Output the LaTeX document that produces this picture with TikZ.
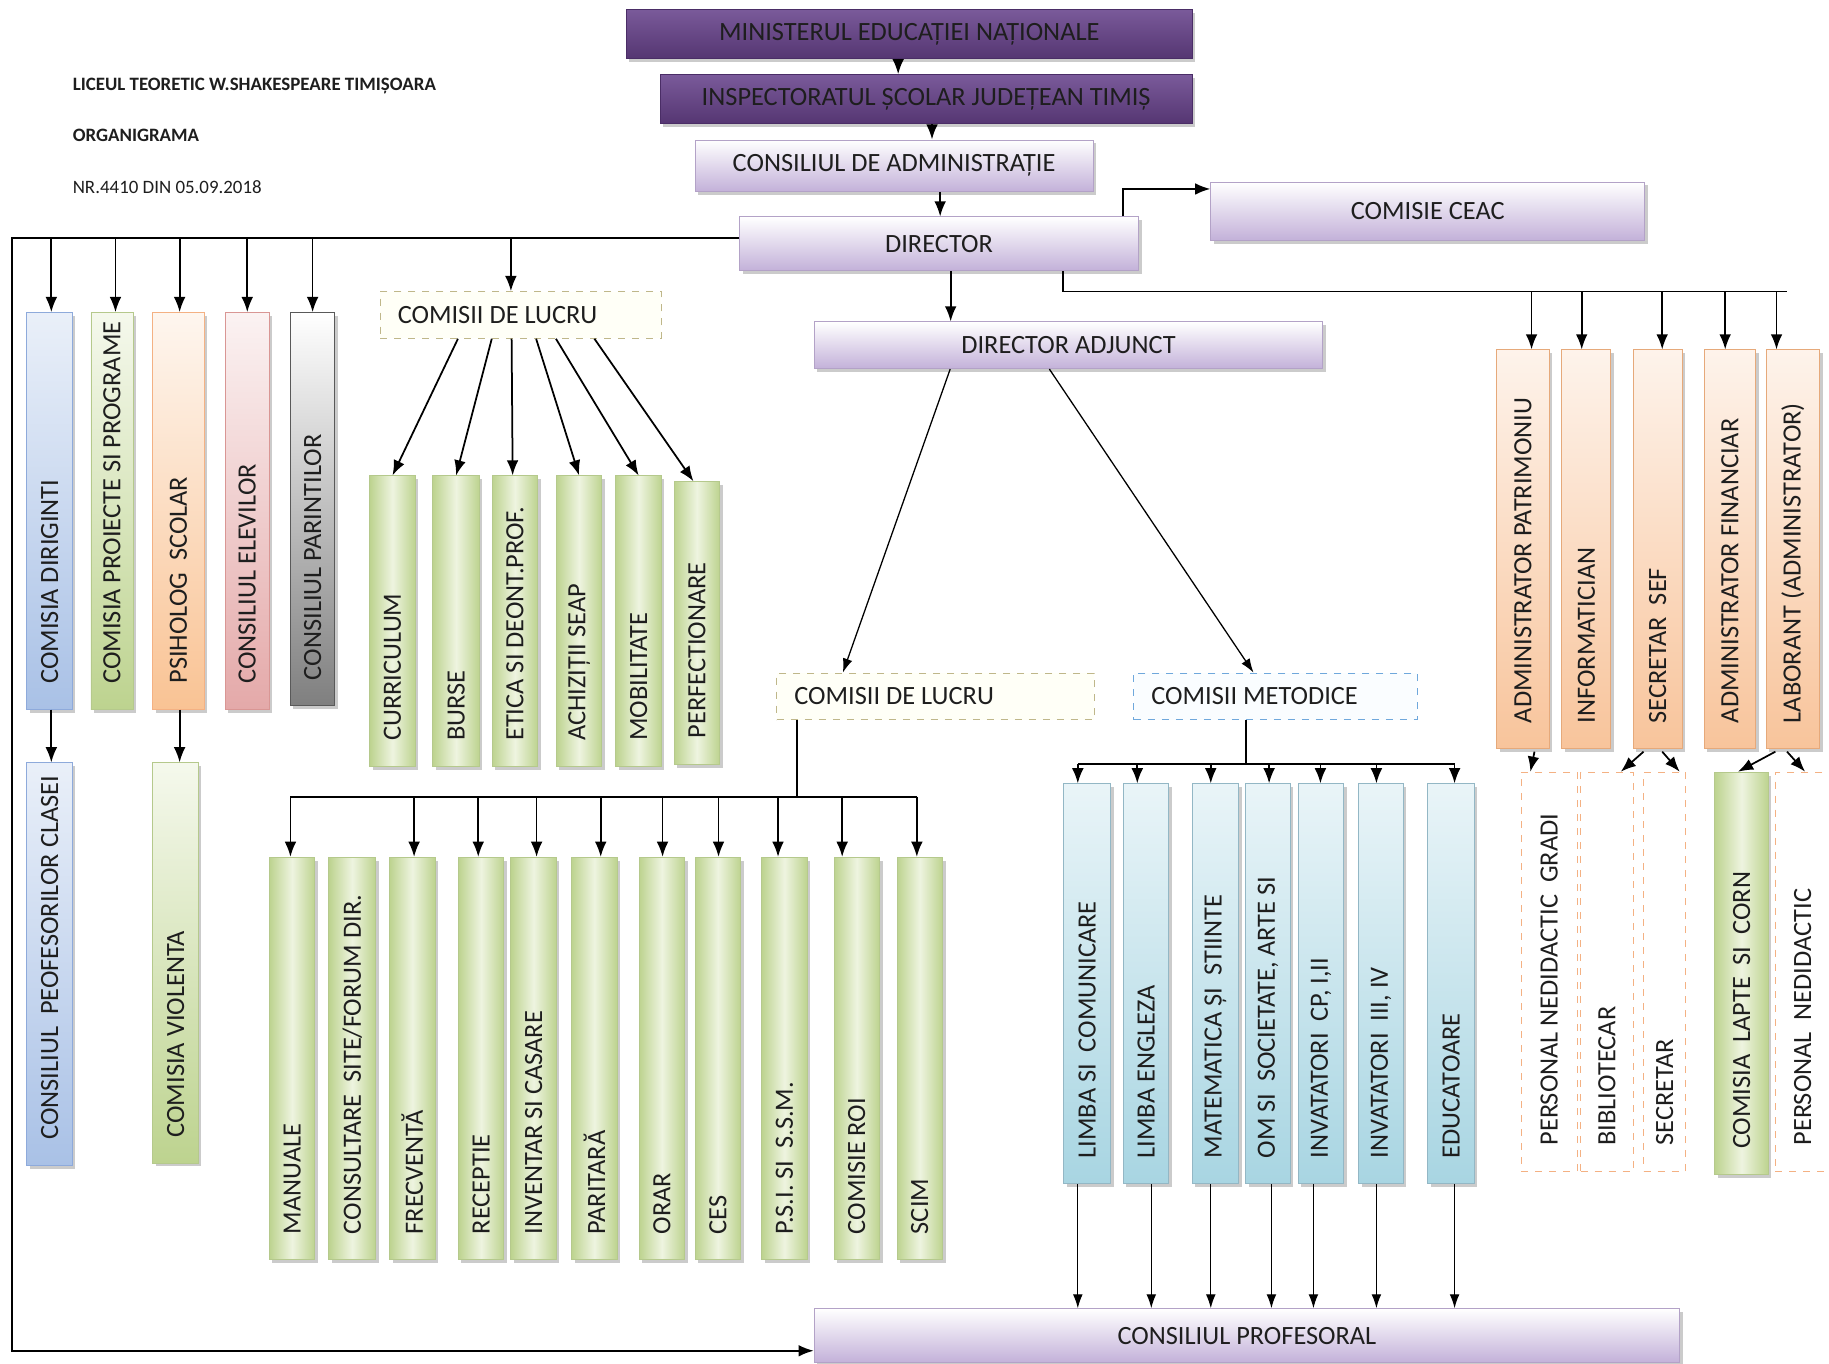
\documentclass[tikz,border=0pt]{standalone}
\usepackage{fontspec}
\setmainfont{Carlito}
\usetikzlibrary{arrows.meta,shadows,calc}
\definecolor{txt}{HTML}{1E1E1E}
\definecolor{purpT}{HTML}{7A5A9A}
\definecolor{purpC}{HTML}{553672}
\definecolor{purpB}{HTML}{4A2D66}
\definecolor{lavC}{HTML}{C3B1D9}
\definecolor{lavB}{HTML}{B3A2C7}
\definecolor{blueC}{HTML}{A9C1E6}
\definecolor{blueB}{HTML}{8EAADB}
\definecolor{greenC}{HTML}{BDD38F}
\definecolor{greenL}{HTML}{EEF4E0}
\definecolor{greenB}{HTML}{B5C98C}
\definecolor{peachC}{HTML}{F9C394}
\definecolor{peachB}{HTML}{F4B183}
\definecolor{pinkC}{HTML}{E4A9A9}
\definecolor{pinkB}{HTML}{D99694}
\definecolor{greyC}{HTML}{7F7F7F}
\definecolor{greyB}{HTML}{595959}
\definecolor{mblueC}{HTML}{A8D5E2}
\definecolor{mblueB}{HTML}{93B7C5}
\definecolor{orC}{HTML}{F8C49B}
\definecolor{orB}{HTML}{E6A97A}
\definecolor{dashTan}{HTML}{BFB78A}
\definecolor{dashBlue}{HTML}{6FA8DC}
\definecolor{dashOr}{HTML}{F4B183}
\newcommand\mkbox[6]{\node[#2,minimum width={(#5-#3)*0.5pt},minimum height={(#6-#4)*0.5pt}] (#1) at ({(#3+#5)/2},{(#4+#6)/2}) {};}
\newcommand\mkboxt[7]{\node[#2,minimum width={(#5-#3)*0.5pt},minimum height={(#6-#4)*0.5pt}] (#1) at ({(#3+#5)/2},{(#4+#6)/2}) {#7};}
\newcommand\mklab[2]{\node[vlab] (#1T) at ($(#1.south)+(0,-22)$) {#2};}
\begin{document}
\begin{tikzpicture}[x=0.5pt,y=-0.5pt,
  lbl/.style={font=\fontsize{11.3}{13}\selectfont, text=txt},
  hdr/.style={font=\fontsize{8.1}{10}\selectfont\bfseries, text=txt, anchor=west, inner sep=0pt},
  vlab/.style={lbl, rotate=90, anchor=west, inner sep=0pt},
  hlab/.style={lbl, anchor=west, inner sep=0pt},
  box/.style={rectangle, inner sep=0pt, line width=0.4pt},
  shad/.style={drop shadow={shadow xshift=1.3pt, shadow yshift=-1.5pt, fill=black!45, opacity=0.45}},
  purp/.style={box, shad, draw=purpB, top color=purpT, bottom color=purpC, lbl},
  lav/.style={box, shad, draw=lavB, top color=white, bottom color=lavC, lbl},
  blueb/.style={box, shad, draw=blueB, top color=blueC!25, bottom color=blueC},
  greenv/.style={box, shad, draw=greenB, top color=greenL!60, bottom color=greenC},
  greenh/.style={box, shad, draw=greenB, left color=greenC, right color=greenC, middle color=greenL},
  peachb/.style={box, shad, draw=peachB, top color=peachC!15, bottom color=peachC},
  pinkb/.style={box, shad, draw=pinkB, top color=pinkC!15, bottom color=pinkC},
  greyb/.style={box, shad, draw=greyB, top color=white, bottom color=greyC},
  mblue/.style={box, shad, draw=mblueB, top color=mblueC!25, bottom color=mblueC},
  orb/.style={box, shad, draw=orB, top color=orC!20, bottom color=orC},
  dtan/.style={box, draw=dashTan, dashed, fill=yellow!3},
  dblue/.style={box, draw=dashBlue, dashed, fill=cyan!2},
  dor/.style={box, draw=dashOr, dashed, fill=white},
  ln/.style={draw=black, line width=0.75pt},
  arr/.style={draw=black, line width=0.75pt, -{Latex[length=6.5pt,width=5pt]}},
  tarr/.style={draw=black, line width=0.55pt, -{Latex[length=6pt,width=4.2pt]}}
]
\fill[white] (0,0) rectangle (1568,1169.35);
\useasboundingbox (0,0) rectangle (1568,1169.35);

% header
\node[hdr] (h1) at (62,74) {LICEUL TEORETIC W.SHAKESPEARE TIMIȘOARA};
\node[hdr] (h2) at (62,116) {ORGANIGRAMA};
\node[hdr, font=\fontsize{8.1}{10}\selectfont] (h3) at (62,160) {NR.4410 DIN 05.09.2018};

% top chain
\mkboxt{min}{purp}{537}{8}{1022}{50}{MINISTERUL EDUCAȚIEI NAȚIONALE}
\mkboxt{insp}{purp}{566}{64}{1022}{106}{INSPECTORATUL ȘCOLAR JUDEȚEAN TIMIȘ}
\mkboxt{ca}{lav}{596}{120}{937}{164}{CONSILIUL DE ADMINISTRAȚIE}
\mkboxt{dir}{lav}{634}{186}{976}{232}{DIRECTOR}
\mkboxt{ceac}{lav}{1038}{156}{1410}{206}{COMISIE CEAC}
\mkboxt{da}{lav}{698}{276}{1134}{316}{DIRECTOR ADJUNCT}
\mkboxt{cp}{lav}{698}{1122}{1440}{1168}{CONSILIUL PROFESORAL}

% dashed group boxes
\mkbox{cl1}{dtan}{326}{250}{567}{290}
\node[hlab] (cl1T) at ($(cl1.west)+(15,0)$) {COMISII DE LUCRU};
\mkbox{cl2}{dtan}{666}{577}{938}{617}
\node[hlab] (cl2T) at ($(cl2.west)+(15,0)$) {COMISII DE LUCRU};
\mkbox{met}{dblue}{972}{577}{1215}{617}
\node[hlab] (metT) at ($(met.west)+(15,0)$) {COMISII METODICE};

% left row 1
\mkbox{dirig}{blueb}{23}{268}{62}{608}
\mkbox{proi}{greenv}{78}{268}{114}{608}
\mkbox{psih}{peachb}{131}{268}{175}{608}
\mkbox{elev}{pinkb}{193}{268}{231}{608}
\mkbox{parn}{greyb}{249}{268}{287}{605}
\mklab{dirig}{COMISIA DIRIGINTI}
\mklab{proi}{COMISIA PROIECTE SI PROGRAME}
\mklab{psih}{PSIHOLOG~ SCOLAR}
\mklab{elev}{CONSILIUL ELEVILOR}
\mklab{parn}{CONSILIUL PARINTILOR}
% left row 2
\mkbox{peof}{blueb}{23}{654}{62}{999}
\mkbox{viol}{greenv}{131}{654}{170}{997}
\mklab{peof}{CONSILIUL~ PEOFESORILOR CLASEI}
\mklab{viol}{COMISIA VIOLENTA}

% green top six
\mkbox{curr}{greenh}{317}{408}{356}{657}
\mkbox{burse}{greenh}{371}{408}{411}{657}
\mkbox{etica}{greenh}{422}{408}{461}{657}
\mkbox{achiz}{greenh}{477}{408}{516}{657}
\mkbox{mobil}{greenh}{528}{408}{567}{657}
\mkbox{perf}{greenh}{578}{413}{617}{655}
\mklab{curr}{CURRICULUM}
\mklab{burse}{BURSE}
\mklab{etica}{ETICA SI DEONT.PROF.}
\mklab{achiz}{ACHIZIȚII SEAP}
\mklab{mobil}{MOBILITATE}
\mklab{perf}{PERFECTIONARE}

% green bottom eleven
\mkbox{man}{greenh}{231}{735}{270}{1080}
\mkbox{cons}{greenh}{282}{735}{322}{1080}
\mkbox{frec}{greenh}{334}{735}{373}{1080}
\mkbox{rec}{greenh}{393}{735}{432}{1080}
\mkbox{inv}{greenh}{438}{735}{477}{1080}
\mkbox{pari}{greenh}{490}{735}{529}{1080}
\mkbox{orar}{greenh}{548}{735}{587}{1080}
\mkbox{ces}{greenh}{596}{735}{635}{1080}
\mkbox{psi}{greenh}{653}{735}{692}{1080}
\mkbox{roi}{greenh}{715}{735}{754}{1080}
\mkbox{scim}{greenh}{769}{735}{808}{1080}
\mklab{man}{MANUALE}
\mklab{cons}{CONSULTARE~ SITE/FORUM DIR.}
\mklab{frec}{FRECVENTĂ}
\mklab{rec}{RECEPTIE}
\mklab{inv}{INVENTAR SI CASARE}
\mklab{pari}{PARITARĂ}
\mklab{orar}{ORAR}
\mklab{ces}{CES}
\mklab{psi}{P.S.I. SI~ S.S.M.}
\mklab{roi}{COMISIE ROI}
\mklab{scim}{SCIM}

% metodice
\mkbox{lsc}{mblue}{912}{672}{952}{1015}
\mkbox{leng}{mblue}{963}{672}{1002}{1015}
\mkbox{mat}{mblue}{1022}{672}{1062}{1015}
\mkbox{om}{mblue}{1068}{672}{1106}{1015}
\mkbox{icp}{mblue}{1113}{672}{1152}{1015}
\mkbox{itr}{mblue}{1165}{672}{1203}{1015}
\mkbox{edu}{mblue}{1224}{672}{1264}{1015}
\mklab{lsc}{LIMBA SI~ COMUNICARE}
\mklab{leng}{LIMBA ENGLEZA}
\mklab{mat}{MATEMATICA ȘI~ STIINTE}
\mklab{om}{OM SI~ SOCIETATE, ARTE SI}
\mklab{icp}{INVATATORI~ CP, I,II}
\mklab{itr}{INVATATORI~ III, IV}
\mklab{edu}{EDUCATOARE}

% right orange
\mkbox{patr}{orb}{1283}{300}{1328}{642}
\mkbox{info}{orb}{1339}{300}{1381}{642}
\mkbox{secs}{orb}{1400}{300}{1442}{642}
\mkbox{fin}{orb}{1461}{300}{1505}{642}
\mkbox{lab}{orb}{1514}{300}{1560}{642}
\mklab{patr}{ADMINISTRATOR PATRIMONIU}
\mklab{info}{INFORMATICIAN}
\mklab{secs}{SECRETAR~ SEF}
\mklab{fin}{ADMINISTRATOR FINANCIAR}
\mklab{lab}{LABORANT (ADMINISTRATOR)}

% right bottom
\mkbox{png}{dor}{1304}{662}{1352}{1004}
\mkbox{bib}{dor}{1355}{662}{1400}{1004}
\mkbox{sec}{dor}{1409}{662}{1445}{1004}
\mkbox{lapte}{greenh}{1470}{662}{1516}{1007}
\mkbox{pn}{dor}{1522}{662}{1575}{1004}
\mklab{png}{PERSONAL NEDIDACTIC~ GRADI}
\mklab{bib}{BIBLIOTECAR}
\mklab{sec}{SECRETAR}
\mklab{lapte}{COMISIA~ LAPTE~ SI~ CORN}
\node[vlab] (pnT) at ($(pn.south)+(-3,-22)$) {PERSONAL~ NEDIDACTIC};

% ---- connectors ----
\coordinate (t1) at (770,0);
\coordinate (t2) at (799,0);
\coordinate (t3) at (806,0);
\coordinate (t4) at (815,0);
\draw[arr] (min.south -| t1) -- (insp.north -| t1);
\draw[arr] (insp.south -| t2) -- (ca.north -| t2);
\draw[arr] (ca.south -| t3) -- (dir.north -| t3);
\draw[arr] (dir.south -| t4) -- (da.north -| t4);

% CEAC
\coordinate (c0) at (963,162);
\draw[arr] (dir.north -| c0) |- (ceac.west |- c0);

% left bus
\coordinate (L0) at (10,204);
\coordinate (Lb) at (10,1158);
\draw[arr] (dir.west |- L0) -- (L0) |- (cp.west |- Lb);
\foreach \n/\xx in {dirig/44, proi/99, psih/154, elev/212, parn/268, cl1/438}{
  \coordinate (b\n) at (\xx,204);
  \draw[arr] (b\n) -- (b\n |- \n.north);
}
\coordinate (d1) at (44,0);
\coordinate (d2) at (154,0);
\draw[arr] (dirig.south -| d1) -- (peof.north -| d1);
\draw[arr] (psih.south -| d2) -- (viol.north -| d2);

% comisii de lucru 1 fan
\draw[arr] ($(cl1.south west)+(67,0)$) -- (curr.north);
\draw[arr] ($(cl1.south west)+(96,0)$) -- (burse.north);
\draw[arr] ($(cl1.south west)+(113,0)$) -- ($(etica.north)+(-2,0)$);
\draw[arr] ($(cl1.south west)+(134,0)$) -- (achiz.north);
\draw[arr] ($(cl1.south west)+(151,0)$) -- (mobil.north);
\draw[arr] ($(cl1.south west)+(184,0)$) -- ($(perf.north)+(-3,0)$);

% right bus
\coordinate (R0) at (911,250);
\coordinate (R1) at (1532,250);
\draw[ln] (dir.south -| R0) |- (R1);
\foreach \n/\xx in {patr/1313, info/1356, secs/1425, fin/1479, lab/1523}{
  \coordinate (r\n) at (\xx,250);
  \draw[arr] (r\n) -- (r\n |- \n.north);
}

% director adjunct
\draw[tarr] ($(da.south west)+(117,0)$) -- ($(cl2.north west)+(57,0)$);
\draw[tarr] ($(da.south west)+(202,0)$) -- ($(met.north west)+(103,0)$);

% comisii de lucru 2 bus
\coordinate (G0) at (683,683);
\coordinate (Ga) at (249,683);
\coordinate (Gb) at (786,683);
\draw[ln] (cl2.south -| G0) -- (G0);
\draw[ln] (Ga) -- (Gb);
\foreach \n/\xx in {man/249, frec/355, rec/410, inv/460, pari/515, orar/568, ces/616, psi/667, roi/722, scim/786}{
  \coordinate (g\n) at (\xx,683);
  \draw[arr] (g\n) -- (g\n |- \n.north);
}

% metodice bus
\coordinate (M0) at (1068,655);
\coordinate (Ma) at (924,655);
\coordinate (Mb) at (1247,655);
\draw[ln] (met.south -| M0) -- (M0);
\draw[ln] (Ma) -- (Mb);
\foreach \n/\xx in {lsc/924, leng/975, mat/1038, om/1088, icp/1132, itr/1180, edu/1247}{
  \coordinate (m\n) at (\xx,655);
  \draw[arr] (m\n) -- (m\n |- \n.north);
}
\foreach \n/\xx in {lsc/924, leng/987, mat/1038, om/1090, icp/1126, itr/1180, edu/1247}{
  \coordinate (p\n) at (\xx,0);
  \draw[tarr] (\n.south -| p\n) -- (cp.north -| p\n);
}

% right bottom arrows
\draw[arr] ($(patr.south)+(10,2)$) -- ($(png.north)+(-16,0)$);
\draw[arr] ($(secs.south)+(-12,2)$) -- ($(bib.north)+(12,0)$);
\draw[arr] ($(secs.south)+(4,2)$) -- ($(sec.north)+(13,0)$);
\draw[arr] ($(lab.south)+(-15,2)$) -- ($(lapte.north)+(-3,0)$);
\draw[arr] ($(lab.south)+(-5,2)$) -- ($(pn.north)+(-1,0)$);
\end{tikzpicture}
\end{document}
